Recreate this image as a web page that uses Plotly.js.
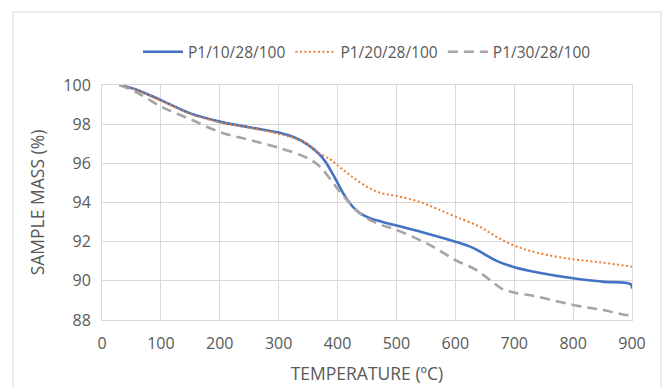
<!DOCTYPE html>
<html>
<head>
<meta charset="utf-8">
<script src="https://cdn.plot.ly/plotly-3.0.1.min.js"></script>
<style>html,body{margin:0;padding:0;background:#fff;}#chart{width:667px;height:388px;}</style>
</head>
<body>
<div id="chart"></div>
<script>
const seriesNames = ["P1/10/28/100", "P1/20/28/100", "P1/30/28/100"];

const tempBlue = [30, 60, 100, 150, 200, 250, 300, 330, 350, 370, 380, 390, 400, 410, 420, 430, 440, 455, 475, 500, 550, 600, 630, 650, 670, 700, 740, 800, 850, 898, 900];
const massBlue = [100, 99.75, 99.23, 98.55, 98.13, 97.84, 97.57, 97.28, 96.94, 96.43, 96.05, 95.55, 95.0, 94.45, 94.0, 93.65, 93.42, 93.2, 93.02, 92.82, 92.43, 92.0, 91.68, 91.35, 91.02, 90.7, 90.43, 90.13, 89.96, 89.83, 89.6];

const tempOrange = [30, 60, 100, 150, 200, 250, 300, 330, 350, 370, 388, 400, 421, 450, 472, 500, 539, 567, 600, 641, 669, 700, 738, 800, 850, 900];
const massOrange = [100, 99.72, 99.2, 98.52, 98.1, 97.82, 97.5, 97.25, 96.95, 96.5, 96.2, 95.9, 95.4, 94.8, 94.5, 94.33, 94.04, 93.7, 93.28, 92.77, 92.26, 91.8, 91.44, 91.1, 90.93, 90.72];

const tempGray = [30, 60, 100, 150, 200, 250, 300, 350, 370, 390, 400, 421, 444, 472, 500, 539, 567, 600, 636, 658, 680, 700, 738, 800, 850, 898, 900];
const massGray = [100, 99.6, 98.9, 98.25, 97.6, 97.2, 96.8, 96.25, 95.83, 95.1, 94.7, 93.96, 93.3, 92.88, 92.6, 92.09, 91.66, 91.06, 90.55, 90.06, 89.58, 89.4, 89.2, 88.77, 88.51, 88.26, 88.35];

const xTicks = [0, 100, 200, 300, 400, 500, 600, 700, 800, 900];
const yTicks = [88, 90, 92, 94, 96, 98, 100];

const font = "Open Sans, Noto Sans, sans-serif";
const txt = "#595959";

const traces = [
  {x: tempBlue, y: massBlue, name: seriesNames[0], mode: "lines",
   line: {color: "#4472C4", width: 2.6, shape: "spline", smoothing: 1}},
  {x: tempOrange, y: massOrange, name: seriesNames[1], mode: "lines",
   line: {color: "#ED7D31", width: 2, dash: "2px,2.5px", shape: "spline", smoothing: 1}},
  {x: tempGray, y: massGray, name: seriesNames[2], mode: "lines",
   line: {color: "#A5A5A5", width: 2.6, dash: "10px,6px", shape: "spline", smoothing: 1}}
];

const layout = {
  width: 667, height: 388,
  margin: {l: 102, r: 35, t: 85, b: 68},
  paper_bgcolor: "#fff", plot_bgcolor: "#fff",
  font: {family: font, color: txt, size: 16},
  showlegend: true,
  legend: {orientation: "h", x: 0.5, xanchor: "center", y: 1.14, yanchor: "middle",
           font: {family: font, size: 15.5, color: txt}, itemwidth: 40, tracegroupgap: 0},
  xaxis: {range: [0, 900], tickvals: xTicks, ticktext: xTicks.map(String),
          showgrid: true, gridcolor: "#d9d9d9", gridwidth: 1, zeroline: false,
          showline: true, linecolor: "#d9d9d9", mirror: true, ticks: "",
          tickfont: {size: 16, color: txt}, ticklabelstandoff: 9,
          title: {text: "TEMPERATURE (ºC)", font: {size: 17.5, color: txt}, standoff: 14}},
  yaxis: {range: [88, 100], tickvals: yTicks, ticktext: yTicks.map(String),
          showgrid: true, gridcolor: "#d9d9d9", gridwidth: 1, zeroline: false,
          showline: true, linecolor: "#d9d9d9", mirror: true, ticks: "",
          tickfont: {size: 16, color: txt}, ticklabelstandoff: 7,
          title: {text: "SAMPLE MASS (%)", font: {size: 17.5, color: txt}, standoff: 14}},
  shapes: [{type: "rect", xref: "paper", yref: "paper",
            x0: (13 - 102) / 530, x1: (661 - 102) / 530,
            y0: -1, y1: 1 + (85 - 12) / 235,
            line: {color: "#d9d9d9", width: 1}, fillcolor: "rgba(0,0,0,0)", layer: "below"}]
};

Plotly.newPlot("chart", traces, layout, {staticPlot: true, displayModeBar: false});
</script>
</body>
</html>
